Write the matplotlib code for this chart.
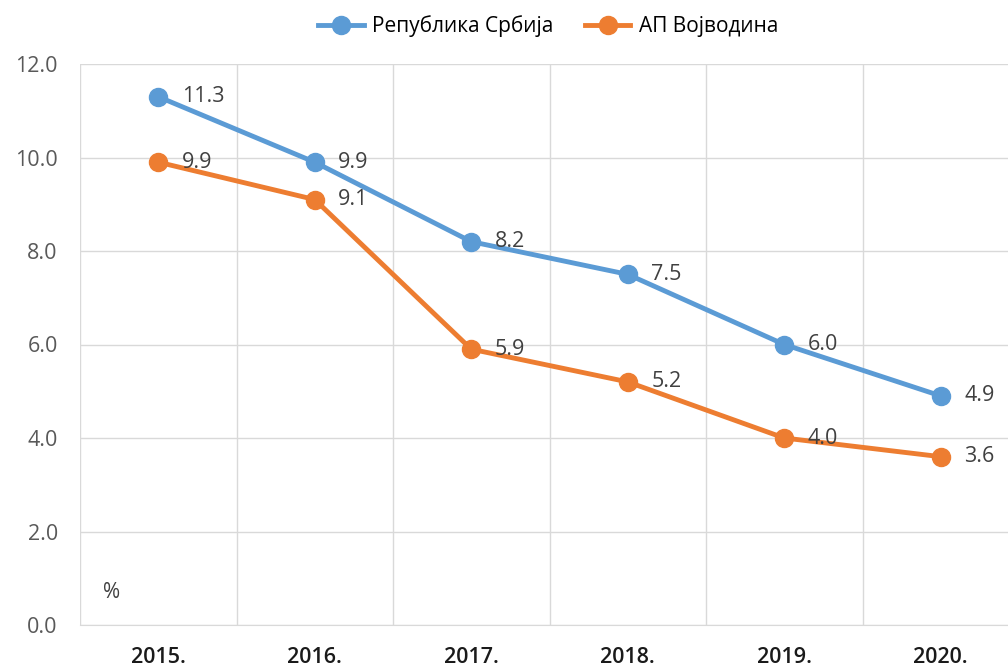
import matplotlib
matplotlib.use("Agg")
import matplotlib.pyplot as plt
from matplotlib.ticker import FormatStrFormatter

plt.rcParams['font.family'] = ['Open Sans', 'DejaVu Sans']

years = ["2015.", "2016.", "2017.", "2018.", "2019.", "2020."]
srbija = [11.3, 9.9, 8.2, 7.5, 6.0, 4.9]
vojvodina = [9.9, 9.1, 5.9, 5.2, 4.0, 3.6]
series_names = ["Република Србија", "АП Војводина"]

blue = "#5B9BD5"
orange = "#ED7D31"

fig = plt.figure(figsize=(10.08, 6.7), dpi=100)
# plot area runs past the right edge like the original
ax = fig.add_axes([80/1008, 45/670, 939/1008, 561/670])

x = range(len(years))
ax.plot(x, srbija, color=blue, lw=3.5, marker='o', ms=13, label=series_names[0], zorder=3)
ax.plot(x, vojvodina, color=orange, lw=3.5, marker='o', ms=13, label=series_names[1], zorder=3)

for xi, v in zip(x, srbija):
    ax.annotate(f"{v:.1f}", (xi, v), xytext=(17, 0), textcoords='offset points',
                fontsize=15.5, color='#404040', va='center', ha='left')
for xi, v in zip(x, vojvodina):
    ax.annotate(f"{v:.1f}", (xi, v), xytext=(17, 0), textcoords='offset points',
                fontsize=15.5, color='#404040', va='center', ha='left')

ax.set_xlim(-0.5, 5.5)
ax.set_ylim(0, 12)
ax.set_yticks(range(0, 13, 2))
ax.yaxis.set_major_formatter(FormatStrFormatter('%.1f'))
ax.set_xticks(list(x))
ax.set_xticklabels(years, fontsize=15.5, color='#1a1a1a', fontweight='semibold')
ax.set_xticks([i + 0.5 for i in range(-1, 6)], minor=True)
ax.tick_params(axis='y', labelsize=15.5, labelcolor='#595959', length=0, pad=16)
ax.tick_params(axis='x', which='both', length=0, pad=16)

ax.grid(axis='y', which='major', color='#d9d9d9', lw=1)
ax.grid(axis='x', which='minor', color='#d9d9d9', lw=1)
ax.set_axisbelow(True)
for s in ['top', 'right', 'left']:
    ax.spines[s].set_visible(False)
ax.spines['bottom'].set_color('#d9d9d9')

ax.text(-0.3, 0.7, "%", fontsize=15, color='#404040', va='center', ha='center')

fig.legend(loc='upper center', bbox_to_anchor=(548/1008, 1.005), ncol=2, frameon=False,
           fontsize=15, handlelength=2.2, columnspacing=1.5, handletextpad=0.4)

fig.savefig("out.png", dpi=100)
